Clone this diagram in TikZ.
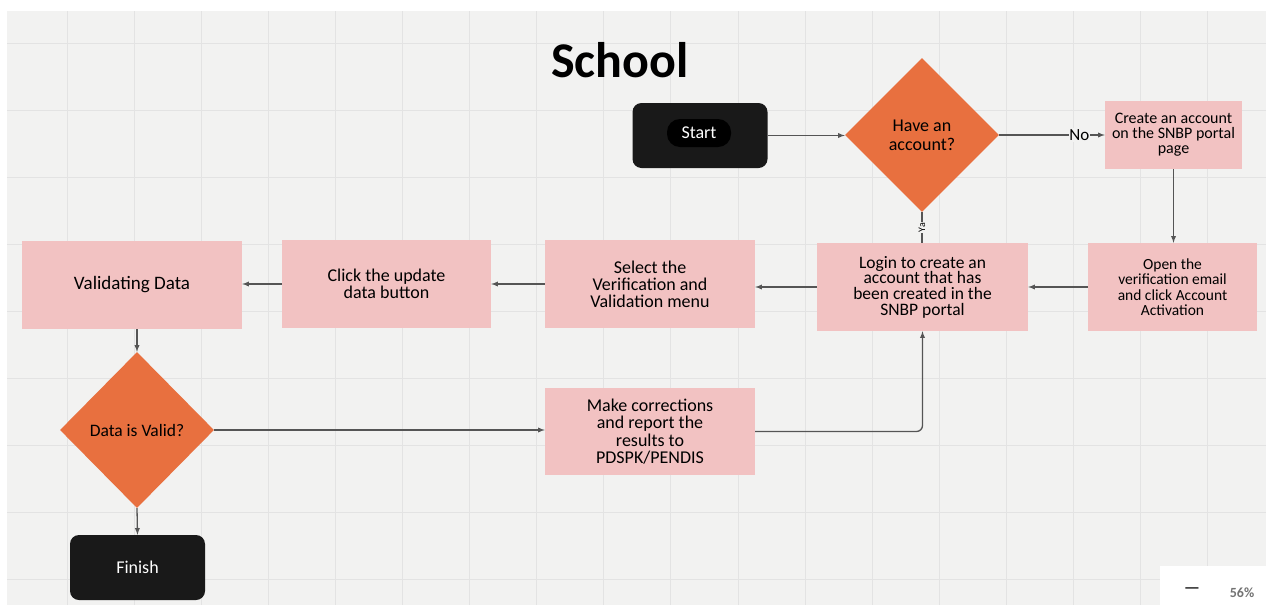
\documentclass[tikz,border=0pt]{standalone}
\usepackage{fontspec}
\setmainfont{Carlito}
\usepackage{tikz}
\usetikzlibrary{arrows,shapes.geometric}

\definecolor{boxpink}{HTML}{F2C2C2}
\definecolor{deciorange}{HTML}{E8703F}
\definecolor{gridbg}{HTML}{F2F2F1}
\definecolor{gridline}{HTML}{E3E3E3}
\definecolor{linegray}{HTML}{555555}

\tikzset{
  process/.style={rectangle, fill=boxpink, align=center, inner sep=0pt, font=\fontsize{18}{17.5}\selectfont},
  decision/.style={diamond, fill=deciorange, aspect=1, inner sep=0pt, align=center, font=\fontsize{18}{19}\selectfont},
  terminal/.style={rectangle, rounded corners=9pt, fill=black!90, text=white, minimum width=135pt, minimum height=65pt, font=\fontsize{18}{20}\selectfont},
  flow/.style={->, >=latex, draw=linegray, line width=1.3pt}
}

\begin{document}
\begin{tikzpicture}[x=1pt,y=-1pt]
        % the canvas
        \useasboundingbox (0,0) rectangle (1266,614);
        \fill[white] (0,0) rectangle (1266,614);
        \fill[gridbg] (7,11) rectangle (1266,605);
        \foreach \gx in {0,...,17}
            \draw[gridline, line width=1pt] ({67+67.1*\gx},11) -- ({67+67.1*\gx},605);
        \foreach \gy in {0,...,8}
            \draw[gridline, line width=1pt] (7,{43+67*\gy}) -- (1266,{43+67*\gy});

        % the title
        \node[font=\bfseries\fontsize{50}{60}\selectfont] (title) at (620,60) {School};

        % the nodes
        \node[terminal] (start) at (700,135.5) {};
        \node[fill=black, rounded corners=13pt, text=white, minimum width=64pt, minimum height=28pt, font=\fontsize{18}{20}\selectfont] (starttxt) at (699,133) {Start};
        \node[decision, minimum width=154pt, minimum height=154pt] (have) at (922,135) {Have an\\account?};
        \node[process, minimum width=137pt, minimum height=68pt, font=\fontsize{16}{15}\selectfont] (create) at (1173.5,135) {Create an account\\on the SNBP portal\\page};
        \node[process, minimum width=169pt, minimum height=88pt, font=\fontsize{15.5}{15.5}\selectfont] (open) at (1172.5,287) {Open the\\verification email\\and click Account\\Activation};
        \node[process, minimum width=211pt, minimum height=88pt, font=\fontsize{17.5}{15.7}\selectfont] (login) at (922.5,287) {Login to create an\\account that has\\been created in the\\SNBP portal};
        \node[process, minimum width=210pt, minimum height=88pt, font=\fontsize{18}{17}\selectfont] (select) at (650,284) {Select the\\Verification and\\Validation menu};
        \node[process, minimum width=209pt, minimum height=88pt] (click) at (386.5,284) {Click the update\\data button};
        \node[process, minimum width=220pt, minimum height=88pt, font=\fontsize{19}{18}\selectfont] (valid) at (132,285) {Validating Data};
        \node[decision, minimum width=154pt, minimum height=156pt, font=\fontsize{17.5}{19}\selectfont] (isvalid) at (137,430) {Data is Valid?};
        \node[process, minimum width=210pt, minimum height=87pt] (make) at (650,431.5) {Make corrections\\and report the\\results to\\PDSPK/PENDIS};
        \node[terminal] (finish) at (137.5,567.5) {Finish};

        % the zoom box
        \node[fill=white, minimum width=106pt, minimum height=49pt] (zoombox) at (1213,590) {};
        \node[text=black!80, font=\bfseries\fontsize{18}{18}\selectfont] (zoomout) at (1192,591) {—};
        \node[text=black!55, font=\bfseries\fontsize{14}{16}\selectfont] (zoomval) at (1242,593) {56\%};

        % draw the arrows
        \draw[flow] (start.east) -- (start.east -| have.west);
        \draw[flow] (have.east) -- node[pos=0.76, fill=gridbg, inner sep=1pt, font=\fontsize{17}{18}\selectfont] {No} (create.west);
        \draw[draw=linegray, line width=1.3pt] (have.south) -- node[rotate=90, fill=gridbg, inner sep=1pt, font=\fontsize{10}{11}\selectfont] {Ya} (have.south |- login.north);
        \draw[flow] (create.south) -- (create.south |- open.north);
        \draw[flow] (open.west) -- (open.west -| login.east);
        \draw[flow] (login.west) -- (login.west -| select.east);
        \draw[flow] (select.west) -- (click.east);
        \draw[flow] (click.west) -- (click.west -| valid.east);
        \draw[flow] (isvalid.north |- valid.south) -- (isvalid.north);
        \draw[flow] (isvalid.east) -- (isvalid.east -| make.west);
        \draw[flow, rounded corners=6pt] (make.east) -| (login.south);
        \draw[flow] (isvalid.south) -- (finish.north);

\end{tikzpicture}
\end{document}
